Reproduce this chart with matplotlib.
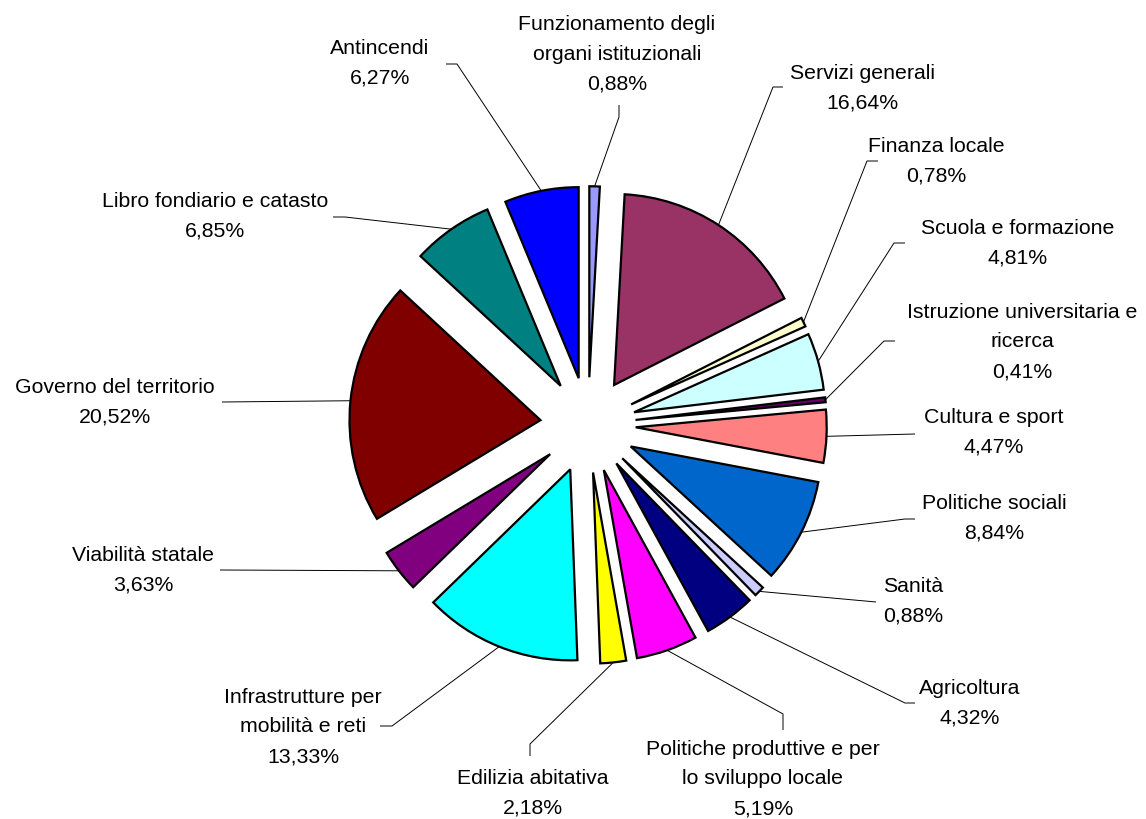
import matplotlib
matplotlib.use("Agg")
import matplotlib.pyplot as plt
import numpy as np

categories = [
    "Funzionamento degli\norgani istituzionali",
    "Servizi generali",
    "Finanza locale",
    "Scuola e formazione",
    "Istruzione universitaria e\nricerca",
    "Cultura e sport",
    "Politiche sociali",
    "Sanità",
    "Agricoltura",
    "Politiche produttive e per\nlo sviluppo locale",
    "Edilizia abitativa",
    "Infrastrutture per\nmobilità e reti",
    "Viabilità statale",
    "Governo del territorio",
    "Libro fondiario e catasto",
    "Antincendi",
]
values = [0.88, 16.64, 0.78, 4.81, 0.41, 4.47, 8.84, 0.88, 4.32, 5.19,
          2.18, 13.33, 3.63, 20.52, 6.85, 6.27]
value_labels = ["0,88%", "16,64%", "0,78%", "4,81%", "0,41%", "4,47%", "8,84%",
                "0,88%", "4,32%", "5,19%", "2,18%", "13,33%", "3,63%", "20,52%",
                "6,85%", "6,27%"]
colors = ["#9999FF", "#993366", "#FFFFCC", "#CCFFFF", "#660066", "#FF8080",
          "#0066CC", "#CCCCFF", "#000080", "#FF00FF", "#FFFF00", "#00FFFF",
          "#800080", "#800000", "#008080", "#0000FF"]

# layout (image pixel coordinates)
W, H = 1146, 820
CX, CY, R = 588, 426, 191
EXPLODE = 0.25

label_pos = [(617, 54), (862, 88), (936, 161), (1018, 243), (1022, 342),
             (994, 432), (994, 518), (913, 601), (970, 703), (763, 779),
             (533, 793), (303, 727), (143, 570), (115, 402), (215, 216),
             (380, 63)]
# leader polylines from label side (points after wedge point)
leader_pts = [
    [(619, 118), (619, 106)],
    [(773, 88), (783, 88)],
    [(867, 162), (878, 162)],
    [(894, 244), (905, 244)],
    [(884, 342), (895, 342)],
    [(915, 435)],
    [(905, 520), (915, 520)],
    [(876, 603)],
    [(905, 704), (915, 704)],
    [(783, 715), (783, 731)],
    [(530, 745), (530, 757)],
    [(392, 727), (380, 727)],
    [(220, 571)],
    [(222, 403)],
    [(345, 218), (333, 218)],
    [(457, 65), (446, 65)],
]


def px(x, y):
    return ((x - CX) / R, (CY - y) / R)


fig = plt.figure(figsize=(W / 100, H / 100), dpi=100)
ax = fig.add_axes([0, 0, 1, 1])
ax.set_xlim(-CX / R, (W - CX) / R)
ax.set_ylim(-(H - CY) / R, CY / R)
ax.axis("off")

wedges, _ = ax.pie(values, colors=colors, startangle=90, counterclock=False,
                   explode=[EXPLODE] * len(values), radius=1, center=(0, 0),
                   wedgeprops=dict(edgecolor="black", linewidth=1.6),
                   frame=False)
ax.set_xlim(-CX / R, (W - CX) / R)
ax.set_ylim(-(H - CY) / R, CY / R)
ax.set_aspect("equal")

font = dict(family=["Liberation Sans", "DejaVu Sans"], fontsize=15.3,
            color="black")
for w, cat, vl, lp, pts in zip(wedges, categories, value_labels, label_pos,
                               leader_pts):
    tm = np.deg2rad((w.theta1 + w.theta2) / 2)
    cx, cy = w.center
    wx, wy = cx + w.r * np.cos(tm), cy + w.r * np.sin(tm)
    xs = [wx] + [px(*p)[0] for p in pts]
    ys = [wy] + [px(*p)[1] for p in pts]
    ax.plot(xs, ys, color="black", linewidth=0.7, solid_capstyle="butt")
    tx, ty = px(*lp)
    ax.text(tx, ty, cat + "\n" + vl, ha="center", va="center",
            multialignment="center", linespacing=1.72, **font)

fig.savefig("out.png", dpi=100, facecolor="white")
